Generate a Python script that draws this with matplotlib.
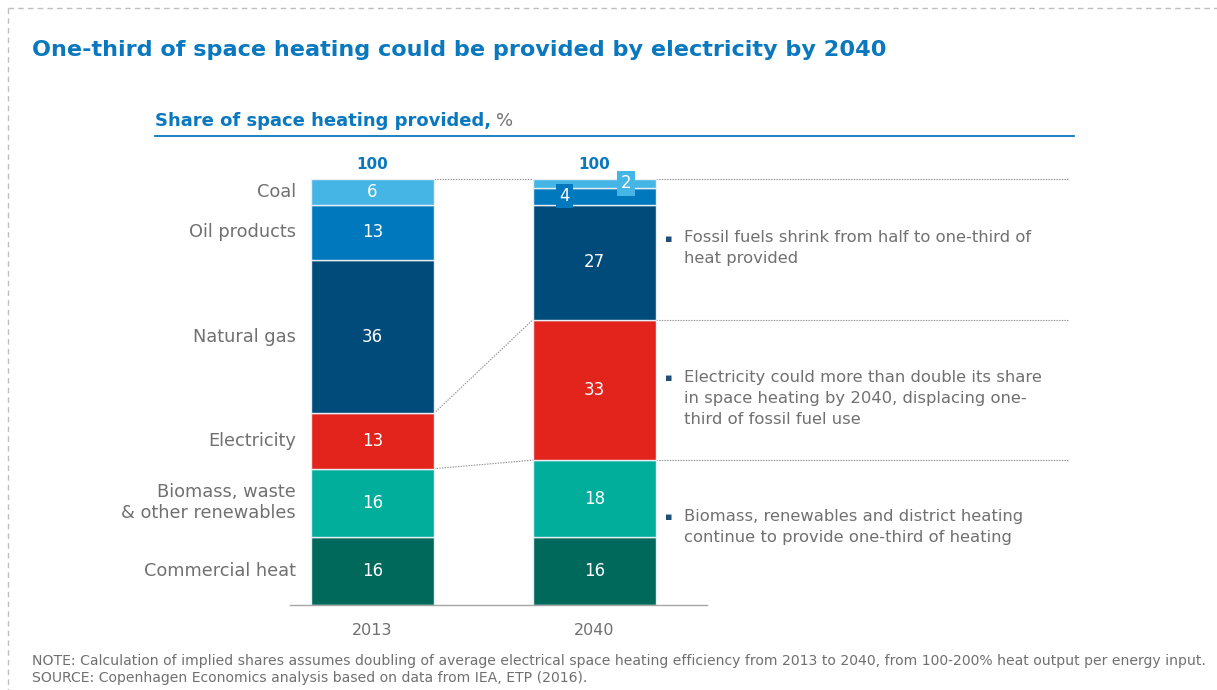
import matplotlib.pyplot as plt
from matplotlib.lines import Line2D

# --- data -------------------------------------------------------------------
years = ["2013", "2040"]
categories = ["Commercial heat", "Biomass, waste\n& other renewables", "Electricity",
              "Natural gas", "Oil products", "Coal"]
share_2013 = [16, 16, 13, 36, 13, 6]
share_2040 = [16, 18, 33, 27, 4, 2]
totals = [100, 100]

notes = [
    "Fossil fuels shrink from half to one-third of\nheat provided",
    "Electricity could more than double its share\nin space heating by 2040, displacing one-\nthird of fossil fuel use",
    "Biomass, renewables and district heating\ncontinue to provide one-third of heating",
]

colors = ["#00695C", "#00AE9B", "#E2241C", "#004B7A", "#0078BD", "#45B5E6"]
BLUE = "#0A78BE"
GREY = "#707070"

plt.rcParams["font.family"] = "DejaVu Sans"

W, H = 1217, 690
fig = plt.figure(figsize=(W / 100, H / 100), dpi=100)

# axes placed so bar centres sit at x=0 and x=1, baseline at y=0
ax_left, ax_right, ax_bottom, ax_top = 290, 707, 605, 179
ax = fig.add_axes([ax_left / W, 1 - ax_bottom / H,
                   (ax_right - ax_left) / W, (ax_bottom - ax_top) / H])
px = 222.0  # pixels per x unit
xlo = -(372.5 - ax_left) / px
ax.set_xlim(xlo, xlo + (ax_right - ax_left) / px)
ax.set_ylim(0, 100)
for s in ["top", "right", "left"]:
    ax.spines[s].set_visible(False)
ax.spines["bottom"].set_color("#A6A6A6")
ax.spines["bottom"].set_linewidth(1.0)
ax.set_yticks([])
ax.set_xticks([0, 1])
ax.set_xticklabels(years, fontsize=11.5, color=GREY)
ax.tick_params(axis="x", length=0, pad=13)

bw = 123 / px
series = [share_2013, share_2040]
bounds = []
for i, vals in enumerate(series):
    bottom = 0
    edges = [0]
    for j, v in enumerate(vals):
        ax.bar(i, v, bw, bottom=bottom, color=colors[j], edgecolor="#E8EEF2",
               linewidth=1.0, zorder=2)
        bottom += v
        edges.append(bottom)
    bounds.append(edges)
    ax.text(i, totals[i] + 1.6, str(totals[i]), ha="center", va="bottom",
            fontsize=11, fontweight="bold", color=BLUE)

# in-bar values
for i, vals in enumerate(series):
    for j, v in enumerate(vals):
        mid = bounds[i][j] + v / 2
        if v >= 6:
            ax.text(i, mid, str(v), ha="center", va="center", fontsize=12,
                    color="white", zorder=3)

# small 2040 segments get boxed labels off to the side
small = {4: -0.137, 5: 0.142}
for j, dx in small.items():
    v = share_2040[j]
    mid = bounds[1][j] + v / 2
    ax.text(1 + dx, mid, str(v), ha="center", va="center", fontsize=12,
            color="white", zorder=4,
            bbox=dict(boxstyle="square,pad=0.2", fc=colors[j], ec="none"))

# category labels next to 2013 bar
for j, name in enumerate(categories):
    mid = bounds[0][j] + share_2013[j] / 2
    ax.text(-bw / 2 - 15 / px, mid, name, ha="right", va="center",
            fontsize=12.8, color=GREY, linespacing=1.2)

# connector lines between the bars and guide lines to the right
dot = dict(color="#8C8C8C", linestyle=(0, (1.2, 1.2)), linewidth=0.8,
           clip_on=False, zorder=1)
for k in [6, 3, 2]:
    ax.plot([bw / 2, 1 - bw / 2], [bounds[0][k], bounds[1][k]], **dot)
    ax.plot([1 + bw / 2, 1 + (1069 - 594.5) / px], [bounds[1][k]] * 2, **dot)

# side notes
note_x = 1 + (684 - 594.5) / px
note_y = [88.0, 55.2, 22.6]
for y, txt in zip(note_y, notes):
    ax.text(note_x - 19 / px, y - 2.0, "\u25aa", ha="left", va="center",
            fontsize=8, color="#1F4E79", clip_on=False)
    ax.text(note_x, y, txt, ha="left", va="top", fontsize=11.8,
            color=GREY, linespacing=1.5)

# headings
fig.text(32 / W, 1 - 50 / H, "One-third of space heating could be provided by electricity by 2040",
         ha="left", va="center", fontsize=16.1, fontweight="bold", color=BLUE)
t = fig.text(155 / W, 1 - 121 / H, "Share of space heating provided,", ha="left", va="center",
             fontsize=13, fontweight="bold", color=BLUE)
fig.canvas.draw()
bb = t.get_window_extent()
fig.text(bb.x1 / W + 5 / W, 1 - 121 / H, "%", ha="left", va="center",
         fontsize=13, color=GREY)
fig.add_artist(Line2D([155 / W, 1074 / W], [1 - 136 / H] * 2, color=BLUE, lw=1.3))

# footer
fig.text(32 / W, 1 - 661 / H,
         "NOTE: Calculation of implied shares assumes doubling of average electrical space heating "
         "efficiency from 2013 to 2040, from 100-200% heat output per energy input.",
         ha="left", va="center", fontsize=10.05, color=GREY)
fig.text(32 / W, 1 - 678 / H,
         "SOURCE: Copenhagen Economics analysis based on data from IEA, ETP (2016).",
         ha="left", va="center", fontsize=10.05, color=GREY)

# dashed frame along top and left
frame = dict(color="#BFBFBF", lw=1.0, linestyle=(0, (4, 3)))
fig.add_artist(Line2D([8 / W, 1], [1 - 8 / H] * 2, **frame))
fig.add_artist(Line2D([8 / W] * 2, [1 - 8 / H, 0], **frame))

fig.savefig("out.png", dpi=100)
